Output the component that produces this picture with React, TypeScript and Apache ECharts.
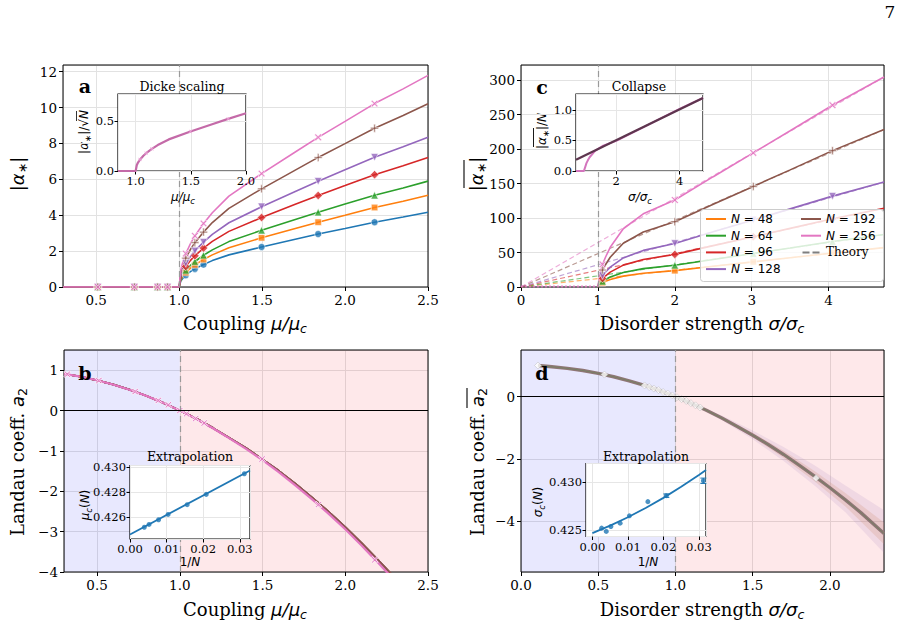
import { useEffect, useRef } from 'react';
import * as echarts from 'echarts';

const SERIF = "'DejaVu Serif', 'Liberation Serif', serif";
const SANS = "'DejaVu Sans', 'Noto Sans', sans-serif";

const COLORS = ['#1f77b4', '#ff7f0e', '#2ca02c', '#d62728', '#9467bd', '#8c564b', '#e377c2'];
const PLUS = 'path://M4,0 H6 V4 H10 V6 H6 V10 H4 V6 H0 V4 H4 Z';
const TRI_DOWN = 'path://M0,0 L10,0 L5,9 Z';
const DASH_ICON = 'path://M0,0 H7 V2 H0 Z M10,0 H17 V2 H10 Z';
const MARKERS = [
  { symbol: 'circle', size: 7, rotate: 0 },
  { symbol: 'rect', size: 6.5, rotate: 0 },
  { symbol: 'triangle', size: 7.5, rotate: 0 },
  { symbol: 'diamond', size: 8.5, rotate: 0 },
  { symbol: TRI_DOWN, size: 7.5, rotate: 0 },
  { symbol: PLUS, size: 8, rotate: 0 },
  { symbol: PLUS, size: 8.5, rotate: 45 },
];

// ---- panel a: order parameter vs coupling ----
const sizesA = [32, 48, 64, 96, 128, 192, 256];
const muA = [0.3, 0.51, 0.73, 0.87, 0.93, 1.0, 1.01, 1.02, 1.04, 1.07, 1.095, 1.147, 1.2, 1.3, 1.497, 1.7, 1.838, 2.0, 2.178, 2.35, 2.5];
const alphaA32 = [0, 0, 0, 0, 0, 0, 0.33, 0.46, 0.66, 0.87, 1.01, 1.25, 1.47, 1.79, 2.23, 2.66, 2.95, 3.26, 3.61, 3.9, 4.17];
const alphaA48 = [0, 0, 0, 0, 0, 0, 0.4, 0.57, 0.8, 1.06, 1.23, 1.53, 1.79, 2.19, 2.74, 3.26, 3.61, 4.0, 4.43, 4.78, 5.11];
const alphaA64 = [0, 0, 0, 0, 0, 0, 0.46, 0.66, 0.93, 1.22, 1.42, 1.77, 2.07, 2.53, 3.16, 3.76, 4.17, 4.62, 5.11, 5.52, 5.9];
const alphaA96 = [0, 0, 0, 0, 0, 0, 0.57, 0.8, 1.14, 1.5, 1.74, 2.17, 2.54, 3.1, 3.87, 4.61, 5.1, 5.65, 6.26, 6.76, 7.22];
const alphaA128 = [0, 0, 0, 0, 0, 0, 0.66, 0.93, 1.31, 1.73, 2.01, 2.5, 2.93, 3.58, 4.47, 5.32, 5.89, 6.53, 7.23, 7.81, 8.34];
const alphaA192 = [0, 0, 0, 0, 0, 0, 0.8, 1.14, 1.61, 2.12, 2.47, 3.06, 3.59, 4.38, 5.47, 6.51, 7.22, 7.99, 8.85, 9.56, 10.21];
const alphaA256 = [0, 0, 0, 0, 0, 0, 0.93, 1.31, 1.86, 2.45, 2.85, 3.54, 4.14, 5.06, 6.32, 7.52, 8.34, 9.23, 10.22, 11.04, 11.79];
const markIdxA = [1, 2, 3, 4, 8, 10, 11, 14, 16, 18];

// inset a: Dicke scaling |α*|/√N
const muDicke = [0.84, 1.0, 1.01, 1.02, 1.04, 1.07, 1.095, 1.147, 1.2, 1.3, 1.497, 1.7, 1.838, 2.0];
const dicke = [0, 0, 0.058, 0.082, 0.116, 0.153, 0.178, 0.221, 0.259, 0.316, 0.395, 0.47, 0.521, 0.577];
const dickeMarkIdx = [4, 6, 7, 10, 12];

// ---- panel c: disorder-averaged order parameter ----
const sizesC = [48, 64, 96, 128, 192, 256];
const sigmaC = [1.0, 1.03, 1.06, 1.1, 1.16, 1.33, 1.59, 2.0, 2.5, 3.02, 3.5, 4.05, 4.72];
const alphaC48 = [0, 3.8, 6.1, 8.2, 10.8, 15.8, 19.9, 23.7, 30.0, 36.5, 42.5, 49.4, 57.1];
const alphaC64 = [0, 5.1, 8.2, 10.9, 14.4, 21.1, 26.6, 31.6, 40.0, 48.6, 56.6, 65.9, 76.2];
const alphaC96 = [0, 7.7, 12.3, 16.3, 21.6, 31.7, 39.8, 47.3, 60.0, 73.0, 85.0, 98.9, 114.2];
const alphaC128 = [0, 10.2, 16.4, 21.8, 28.8, 42.2, 53.1, 63.1, 80.0, 97.3, 113.3, 131.8, 152.3];
const alphaC192 = [0, 15.4, 24.6, 32.6, 43.2, 63.4, 79.7, 94.7, 120.0, 145.9, 169.9, 197.8, 228.5];
const alphaC256 = [0, 20.5, 32.8, 43.5, 57.6, 84.5, 106.2, 126.2, 160.0, 194.6, 226.6, 263.7, 304.6];
const markIdxC = [2, 7, 9, 11];
const sigmaTheoryC = [0, 4.72];
const theoryStartC = [0, 0, 0, 0, 0, 0];
const theoryEndC = [57.1, 76.1, 114.2, 152.2, 228.3, 304.4];
const sigmaZeroC = [0, 0.98];
const alphaZeroC = [0.6, 0.6];

// inset c: collapse |α*|/N
const sigmaCollapse = [0.73, 0.98, 1.0, 1.03, 1.06, 1.1, 1.16, 1.33, 1.59, 2.0, 2.5, 3.02, 3.5, 4.05, 4.74];
const collapse = [0, 0, 0, 0.08, 0.128, 0.17, 0.225, 0.33, 0.415, 0.493, 0.625, 0.76, 0.885, 1.03, 1.195];
const sigmaTheoryInset = [0.73, 4.74];
const theoryInset = [0.184, 1.195];

// ---- panel b: Landau coefficient vs coupling ----
const muB = [0.3, 0.4, 0.5, 0.6, 0.7, 0.8, 0.9, 1.0, 1.1, 1.2, 1.3, 1.4, 1.5, 1.6, 1.7, 1.8, 1.9, 2.0, 2.1, 2.2, 2.3];
const a2Pink = [0.91, 0.84, 0.75, 0.64, 0.51, 0.36, 0.19, 0.0, -0.21, -0.44, -0.69, -0.95, -1.23, -1.53, -1.86, -2.2, -2.56, -2.94, -3.35, -3.78, -4.22];
const a2Finite = [0.91, 0.84, 0.75, 0.64, 0.51, 0.36, 0.19, 0.0, -0.2, -0.43, -0.68, -0.93, -1.21, -1.5, -1.82, -2.16, -2.51, -2.89, -3.29, -3.71, -4.15];
const muMarkB = [0.32, 0.51, 0.73, 0.87, 0.93, 1.0, 1.04, 1.095, 1.147, 1.497, 1.838, 2.178];
const a2MarkB = [0.9, 0.74, 0.47, 0.25, 0.14, 0.0, -0.08, -0.2, -0.31, -1.2, -2.33, -3.7];

// inset b: extrapolation of μc(N)
const invNB = [0.00391, 0.00521, 0.00781, 0.01042, 0.01563, 0.02083, 0.03125];
const muCB = [0.42523, 0.42545, 0.42582, 0.42624, 0.42701, 0.42782, 0.42945];
const fitXB = [0, 0.0328];
const fitYB = [0.42466, 0.4297];
const muCInf = 0.42466;

// ---- panel d: disorder-averaged Landau coefficient ----
const sigD = [0.11, 0.2, 0.3, 0.4, 0.5, 0.6, 0.7, 0.8, 0.9, 1.0, 1.1, 1.2, 1.3, 1.4, 1.5, 1.6, 1.7, 1.8, 1.9, 2.0, 2.1, 2.2, 2.35];
const a2D = [1.0, 0.96, 0.91, 0.84, 0.75, 0.64, 0.51, 0.36, 0.19, 0.0, -0.21, -0.44, -0.69, -0.96, -1.24, -1.54, -1.86, -2.2, -2.56, -2.93, -3.32, -3.73, -4.4];
const sigBand = [1.1, 1.3, 1.5, 1.7, 1.9, 2.1, 2.35];
const outerLow = [-0.23, -0.76, -1.37, -2.07, -2.86, -3.72, -5.03];
const outerHigh = [-0.19, -0.61, -1.09, -1.62, -2.21, -2.86, -3.65];
const innerLow = [-0.22, -0.73, -1.31, -1.97, -2.72, -3.53, -4.75];
const innerHigh = [-0.2, -0.65, -1.16, -1.74, -2.39, -3.1, -4.05];
const sigMarkD = [0.11, 0.54, 0.8, 0.83, 0.86, 0.89, 0.92, 0.95, 0.98, 1.01, 1.04, 1.07, 1.1, 1.13, 1.16, 1.91];
const a2MarkD = [1.0, 0.71, 0.36, 0.31, 0.26, 0.21, 0.15, 0.1, 0.04, -0.02, -0.08, -0.14, -0.21, -0.28, -0.35, -2.62];

// inset d: extrapolation of σc(N)
const invND = [0.0026, 0.00391, 0.00521, 0.00781, 0.01042, 0.01563, 0.02083, 0.03125];
const sigCD = [0.42517, 0.42483, 0.42534, 0.42569, 0.42645, 0.42793, 0.42855, 0.4301];
const errD = [0, 0, 0, 0, 0, 0, 0.00018, 0.00028];
const fitXD = [0, 0.005, 0.01, 0.015, 0.02, 0.025, 0.03, 0.032];
const fitYD = [0.42465, 0.42543, 0.4263, 0.42727, 0.42832, 0.42947, 0.43071, 0.43123];
const sigCInf = 0.42459;

const zip = (xs: number[], ys: number[]) => xs.map((x, i) => [x, ys[i]]);

const fmt = (v: number, d: number) => {
  const val = Math.abs(v) < 1e-12 ? 0 : v;
  return val.toFixed(d).replace('-', '\u2212');
};

type AxisSpec = {
  grid: number; min: number; max: number; interval?: number; nice?: number;
  digits: number; hideMin?: boolean; hideMax?: boolean; inset?: boolean;
};

function makeAxis(s: AxisSpec) {
  return {
    type: 'value',
    gridIndex: s.grid,
    min: s.min,
    max: s.max,
    ...(s.interval != null ? { interval: s.interval } : {}),
    ...(s.nice != null ? { minInterval: s.nice, maxInterval: s.nice } : {}),
    z: s.inset ? 11 : 0,
    axisLine: { show: false, onZero: false },
    axisTick: { show: true, length: s.inset ? 3.5 : 4, lineStyle: { color: '#000', width: 1 } },
    axisLabel: {
      color: '#000', fontFamily: SERIF, fontSize: s.inset ? 11.5 : 13.5, margin: s.inset ? 4 : 6,
      showMinLabel: !s.hideMin, showMaxLabel: !s.hideMax,
      formatter: (v: number) => fmt(v, s.digits),
    },
    splitLine: { show: true, lineStyle: { color: s.inset ? '#e6e6e6' : '#e2e2e2', width: 1 } },
  };
}

const mainGrid = (left: number, top: number, width: number, height: number) => ({
  left, top, width, height, show: true, borderColor: '#000', borderWidth: 1, backgroundColor: 'transparent', z: 2,
});
const insetGrid = (left: number, top: number, width: number, height: number) => ({
  left, top, width, height, show: true, borderColor: '#000', borderWidth: 1.2, backgroundColor: '#ffffff', z: 10,
});

const line = (xi: number, data: number[][], color: string, width: number, extra: any = {}) => ({
  type: 'line', xAxisIndex: xi, yAxisIndex: xi, data, symbol: 'none', showSymbol: false,
  lineStyle: { color, width }, itemStyle: { color }, silent: true, animation: false, ...extra,
});

const dashedV = { lineStyle: { color: '#9a9a9a', type: [6, 4], width: 1.2 } };

function buildOption() {
  const series: any[] = [];

  // panel a
  series.push(line(0, [[1, 0]], 'transparent', 0, {
    z: 1,
    markLine: { silent: true, symbol: ['none', 'none'], label: { show: false }, data: [{ xAxis: 1, ...dashedV }] },
  }));
  const tableA = [alphaA32, alphaA48, alphaA64, alphaA96, alphaA128, alphaA192, alphaA256];
  tableA.forEach((vals, i) => {
    const m = MARKERS[i];
    series.push(line(0, zip(muA, vals), COLORS[i], 1.6, { z: 2 }));
    series.push({
      type: 'scatter', xAxisIndex: 0, yAxisIndex: 0, z: 2, silent: true,
      data: markIdxA.map((k) => [muA[k], vals[k]]),
      symbol: m.symbol, symbolSize: m.size, symbolRotate: m.rotate,
      itemStyle: { color: COLORS[i], borderColor: '#ffffff', borderWidth: 0.7 },
    });
  });

  // inset a
  series.push(line(4, zip(muDicke, dicke), '#c46aa8', 2.2, {
    z: 12,
    markLine: { silent: true, symbol: ['none', 'none'], label: { show: false }, data: [{ xAxis: 1, ...dashedV }] },
  }));
  series.push({
    type: 'scatter', xAxisIndex: 4, yAxisIndex: 4, z: 12, silent: true,
    data: dickeMarkIdx.map((k) => [muDicke[k], dicke[k]]),
    symbol: PLUS, symbolRotate: 45, symbolSize: 4.5,
    itemStyle: { color: '#f0a8dc' },
  });

  // panel c
  series.push(line(1, [[1, 0]], 'transparent', 0, {
    z: 1,
    markLine: { silent: true, symbol: ['none', 'none'], label: { show: false }, data: [{ xAxis: 1, ...dashedV }] },
  }));
  sizesC.forEach((_, i) => {
    series.push(line(1, [[sigmaTheoryC[0], theoryStartC[i]], [sigmaTheoryC[1], theoryEndC[i]]], COLORS[i + 1], 1.2, {
      z: 2, lineStyle: { color: COLORS[i + 1], width: 1.2, type: [5, 3], opacity: 0.6 },
    }));
  });
  series.push(line(1, zip(sigmaZeroC, alphaZeroC), COLORS[6], 2, {
    z: 2, lineStyle: { color: COLORS[6], width: 2, type: [2, 2], opacity: 0.8 },
  }));
  const tableC = [alphaC48, alphaC64, alphaC96, alphaC128, alphaC192, alphaC256];
  tableC.forEach((vals, i) => {
    const m = MARKERS[i + 1];
    series.push(line(1, zip(sigmaC, vals), COLORS[i + 1], 1.6, { z: 2, name: `N = ${sizesC[i]}` }));
    series.push({
      type: 'scatter', xAxisIndex: 1, yAxisIndex: 1, z: 2, silent: true,
      data: markIdxC.map((k) => [sigmaC[k], vals[k]]),
      symbol: m.symbol, symbolSize: m.size, symbolRotate: m.rotate,
      itemStyle: { color: COLORS[i + 1], borderColor: '#ffffff', borderWidth: 0.7 },
    });
  });
  series.push(line(1, [], '#7f7f7f', 1.4, {
    name: 'Theory', lineStyle: { color: '#7f7f7f', width: 1.4, type: [5, 3] },
  }));

  // inset c
  series.push(line(5, zip(sigmaCollapse, collapse), '#d375bd', 2, { z: 12 }));
  series.push(line(5, zip(sigmaTheoryInset, theoryInset), '#5e364f', 2.3, { z: 12 }));

  // panel b
  series.push(line(2, [[0.3, 0]], 'transparent', 0, {
    z: 1,
    markArea: {
      silent: true,
      data: [
        [{ xAxis: 0.3, itemStyle: { color: 'rgba(0,0,240,0.09)' } }, { xAxis: 1 }],
        [{ xAxis: 1, itemStyle: { color: 'rgba(245,0,20,0.09)' } }, { xAxis: 2.5 }],
      ],
    },
    markLine: {
      silent: true, symbol: ['none', 'none'], label: { show: false },
      data: [
        { xAxis: 1, ...dashedV },
        { yAxis: 0, lineStyle: { color: '#000', type: 'solid', width: 1.2 } },
      ],
    },
  }));
  for (let i = 0; i < 6; i++) series.push(line(2, zip(muB, a2Finite), COLORS[i], 1.8, { z: 2 }));
  series.push(line(2, zip(muB, a2Pink), COLORS[6], 2.2, { z: 2 }));
  series.push({
    type: 'scatter', xAxisIndex: 2, yAxisIndex: 2, z: 2, silent: true,
    data: zip(muMarkB, a2MarkB), symbol: PLUS, symbolRotate: 45, symbolSize: 8,
    itemStyle: { color: COLORS[6], borderColor: '#ffffff', borderWidth: 0.9 },
  });

  // inset b
  series.push(line(6, zip(fitXB, fitYB), COLORS[0], 1.8, {
    z: 12,
    markLine: {
      silent: true, symbol: ['none', 'none'], label: { show: false },
      data: [{ yAxis: muCInf, lineStyle: { color: COLORS[3], type: [6, 3], width: 2 } }],
    },
  }));
  series.push({
    type: 'scatter', xAxisIndex: 6, yAxisIndex: 6, z: 12, silent: true,
    data: zip(invNB, muCB), symbol: 'circle', symbolSize: 5, itemStyle: { color: COLORS[0] },
  });

  // panel d
  series.push(line(3, [[0, 0]], 'transparent', 0, {
    z: 1,
    markArea: {
      silent: true,
      data: [
        [{ xAxis: 0, itemStyle: { color: 'rgba(0,0,240,0.09)' } }, { xAxis: 1 }],
        [{ xAxis: 1, itemStyle: { color: 'rgba(245,0,20,0.09)' } }, { xAxis: 2.35 }],
      ],
    },
    markLine: {
      silent: true, symbol: ['none', 'none'], label: { show: false },
      data: [
        { xAxis: 1, ...dashedV },
        { yAxis: 0, lineStyle: { color: '#000', type: 'solid', width: 1.2 } },
      ],
    },
  }));
  const band = (low: number[], high: number[], fill: string) => ({
    type: 'custom', xAxisIndex: 3, yAxisIndex: 3, z: 2, silent: true,
    data: sigBand.map((s, i) => [s, low[i], high[i]]),
    renderItem: (params: any, api: any) => {
      if (params.dataIndex !== 0) return null;
      const upper = sigBand.map((s, i) => api.coord([s, high[i]]));
      const lower = sigBand.map((s, i) => api.coord([s, low[i]])).reverse();
      return { type: 'polygon', shape: { points: upper.concat(lower) }, style: { fill } };
    },
  });
  series.push(band(outerLow, outerHigh, 'rgba(160,130,190,0.15)'));
  series.push(band(innerLow, innerHigh, 'rgba(205,140,110,0.22)'));
  series.push(line(3, zip(sigD, a2D), '#8f7676', 3.4, { z: 2 }));
  series.push(line(3, zip(sigD, a2D), COLORS[2], 0.7, { z: 2, lineStyle: { color: COLORS[2], width: 0.7, opacity: 0.35 } }));
  series.push({
    type: 'scatter', xAxisIndex: 3, yAxisIndex: 3, z: 2, silent: true,
    data: zip(sigMarkD, a2MarkD), symbol: 'diamond', symbolSize: 7,
    itemStyle: { color: '#ffffff', borderColor: 'rgba(170,170,170,0.8)', borderWidth: 0.6 },
  });

  // inset d
  series.push(line(7, zip(fitXD, fitYD), COLORS[0], 1.8, {
    z: 12,
    markLine: {
      silent: true, symbol: ['none', 'none'], label: { show: false },
      data: [{ yAxis: sigCInf, lineStyle: { color: COLORS[3], type: [6, 3], width: 2 } }],
    },
  }));
  series.push({
    type: 'scatter', xAxisIndex: 7, yAxisIndex: 7, z: 12, silent: true,
    data: zip(invND, sigCD), symbol: 'circle', symbolSize: 5, itemStyle: { color: COLORS[0] },
  });
  series.push({
    type: 'custom', xAxisIndex: 7, yAxisIndex: 7, z: 12, silent: true,
    data: invND.map((x, i) => [x, sigCD[i], errD[i]]),
    renderItem: (_p: any, api: any) => {
      const x = api.value(0), y = api.value(1), e = api.value(2);
      if (!e) return null;
      const top = api.coord([x, y + e]);
      const bot = api.coord([x, y - e]);
      const st = { stroke: COLORS[0], lineWidth: 1 };
      return {
        type: 'group',
        children: [
          { type: 'line', shape: { x1: top[0], y1: top[1], x2: bot[0], y2: bot[1] }, style: st },
          { type: 'line', shape: { x1: top[0] - 3, y1: top[1], x2: top[0] + 3, y2: top[1] }, style: st },
          { type: 'line', shape: { x1: bot[0] - 3, y1: bot[1], x2: bot[0] + 3, y2: bot[1] }, style: st },
        ],
      };
    },
  });

  // text styles
  const rich18 = {
    t: { fontFamily: SERIF, fontSize: 18, lineHeight: 24, fill: '#000' },
    m: { fontFamily: SANS, fontStyle: 'italic', fontSize: 18, lineHeight: 24, fill: '#000' },
    r: { fontFamily: SANS, fontSize: 18, lineHeight: 24, fill: '#000' },
    s: { fontFamily: SANS, fontStyle: 'italic', fontSize: 12.5, lineHeight: 12, verticalAlign: 'bottom', fill: '#000' },
    u: { fontFamily: SANS, fontSize: 12.5, lineHeight: 12, verticalAlign: 'bottom', fill: '#000' },
  };
  const rich12 = {
    t: { fontFamily: SERIF, fontSize: 12, lineHeight: 16, fill: '#000' },
    m: { fontFamily: SANS, fontStyle: 'italic', fontSize: 12, lineHeight: 16, fill: '#000' },
    r: { fontFamily: SANS, fontSize: 12, lineHeight: 16, fill: '#000' },
    s: { fontFamily: SANS, fontStyle: 'italic', fontSize: 8.5, lineHeight: 8, verticalAlign: 'bottom', fill: '#000' },
    u: { fontFamily: SANS, fontSize: 8.5, lineHeight: 8, verticalAlign: 'bottom', fill: '#000' },
  };
  const richTight = {
    m: { fontFamily: SANS, fontStyle: 'italic', fontSize: 12, lineHeight: 12, fill: '#000' },
    r: { fontFamily: SANS, fontSize: 12, lineHeight: 12, fill: '#000' },
  };
  const txt = (x: number, y: number, text: string, rich: any, rotation = 0, z = 30) => ({
    type: 'text', x, y, rotation, z, silent: true,
    style: { text, rich, align: 'center', verticalAlign: 'middle', fill: '#000' },
  });
  const plain = (x: number, y: number, text: string, size: number, weight = 'normal') => ({
    type: 'text', x, y, z: 30, silent: true,
    style: { text, fontFamily: SERIF, fontSize: size, fontWeight: weight, fill: '#000', align: 'center', verticalAlign: 'middle' },
  });
  const overline = (x1: number, x2: number, y: number, w = 1.1) => ({
    type: 'line', shape: { x1, y1: y, x2, y2: y }, style: { stroke: '#000', lineWidth: w },
  });

  const graphic: any[] = [
    plain(890, 12, '7', 17),
    plain(85, 86, 'a', 19, 'bold'),
    plain(542, 87, 'c', 19, 'bold'),
    plain(85, 373, 'b', 19, 'bold'),
    plain(542, 373, 'd', 19, 'bold'),
    // axis titles
    txt(245, 323, '{t|Coupling }{m|μ/μ}{s|c}', rich18),
    txt(702, 323, '{t|Disorder strength }{m|σ/σ}{s|c}', rich18),
    txt(245, 609, '{t|Coupling }{m|μ/μ}{s|c}', rich18),
    txt(702, 609, '{t|Disorder strength }{m|σ/σ}{s|c}', rich18),
    txt(17, 174, '{r||}{m|α}{u|∗}{r||}', rich18, Math.PI / 2),
    {
      type: 'group', x: 476, y: 174, rotation: Math.PI / 2, z: 30,
      children: [
        { type: 'text', x: 0, y: 0, style: { text: '{r||}{m|α}{u|∗}{r||}', rich: rich18, align: 'center', verticalAlign: 'middle' } },
        overline(-14, 14, -12),
      ],
    },
    txt(17, 462, '{t|Landau coeff. }{m|a}{u|2}', rich18, Math.PI / 2),
    {
      type: 'group', x: 477, y: 462, rotation: Math.PI / 2, z: 30,
      children: [
        { type: 'text', x: 0, y: 0, style: { text: '{t|Landau coeff. }{m|a}{u|2}', rich: rich18, align: 'center', verticalAlign: 'middle' } },
        overline(54, 74, -10),
      ],
    },
    // inset titles
    plain(182, 86, 'Dicke scaling', 12.5),
    plain(639, 86, 'Collapse', 12.5),
    plain(190, 456, 'Extrapolation', 12.5),
    plain(646, 456, 'Extrapolation', 12.5),
    // inset axis names
    txt(183, 197, '{m|μ/μ}{s|c}', rich12),
    {
      type: 'group', x: 84, y: 132, rotation: Math.PI / 2, z: 30,
      children: [
        { type: 'text', x: 0, y: 0, style: { text: '{r||}{m|α}{u|∗}{r||/√}{m|N}', rich: rich12, align: 'center', verticalAlign: 'middle' } },
        overline(11, 21, -7.5, 0.8),
      ],
    },
    txt(640, 197, '{m|σ/σ}{s|c}', rich12),
    {
      type: 'group', x: 542, y: 131, rotation: Math.PI / 2, z: 30,
      children: [
        { type: 'text', x: 0, y: 0, style: { text: '{r||}{m|α}{u|∗}{r||/}{m|N}', rich: rich12, align: 'center', verticalAlign: 'middle' } },
        overline(-16, 3, -8.5, 0.9),
      ],
    },
    txt(190, 562, '{r|1/}{m|N}', richTight),
    txt(85, 505, '{m|μ}{s|c}{r|(}{m|N}{r|)}', rich12, Math.PI / 2),
    txt(648, 562, '{r|1/}{m|N}', richTight),
    txt(538, 502, '{m|σ}{s|c}{r|(}{m|N}{r|)}', rich12, Math.PI / 2),
    // legend frame
    {
      type: 'rect', z: 19, silent: true,
      shape: { x: 700.5, y: 209.5, width: 183, height: 72, r: 3 },
      style: { fill: 'rgba(255,255,255,0.82)', stroke: '#cccccc', lineWidth: 1 },
    },
  ];

  const legendText = {
    color: '#000', fontFamily: SANS, fontSize: 12, lineHeight: 12,
    rich: {
      m: { fontFamily: SANS, fontStyle: 'italic', fontSize: 12, lineHeight: 12, color: '#000' },
      t: { fontFamily: SERIF, fontSize: 12, lineHeight: 12, color: '#000' },
    },
  };
  const legendFmt = (name: string) => (name === 'Theory' ? '{t|Theory}' : `{m|N} = ${name.slice(4)}`);
  const legendBase = {
    orient: 'vertical', top: 213, itemWidth: 20, itemHeight: 2, itemGap: 4.7, z: 21, icon: 'rect',
    selectedMode: false, textStyle: legendText, formatter: legendFmt, padding: 0,
  };

  return {
    animation: false,
    backgroundColor: '#ffffff',
    grid: [
      mainGrid(63, 65, 365, 222),
      mainGrid(521, 65, 363, 222),
      mainGrid(64, 350, 364, 222),
      mainGrid(521, 350, 363, 222),
      insetGrid(118, 94, 128, 77),
      insetGrid(576, 94, 127, 77),
      insetGrid(130, 465.5, 120, 73.5),
      insetGrid(586, 463.5, 120, 73),
    ],
    xAxis: [
      makeAxis({ grid: 0, min: 0.3, max: 2.5, nice: 0.5, digits: 1, hideMin: true }),
      makeAxis({ grid: 1, min: 0, max: 4.72, interval: 1, digits: 0, hideMax: true }),
      makeAxis({ grid: 2, min: 0.3, max: 2.5, nice: 0.5, digits: 1, hideMin: true }),
      makeAxis({ grid: 3, min: 0, max: 2.35, interval: 0.5, digits: 1, hideMax: true }),
      makeAxis({ grid: 4, min: 0.84, max: 2.0, nice: 0.5, digits: 1, hideMin: true, inset: true }),
      makeAxis({ grid: 5, min: 0.73, max: 4.74, nice: 2, digits: 0, hideMin: true, hideMax: true, inset: true }),
      makeAxis({ grid: 6, min: 0, max: 0.0328, interval: 0.01, digits: 2, hideMax: true, inset: true }),
      makeAxis({ grid: 7, min: -0.0018, max: 0.032, nice: 0.01, digits: 2, hideMin: true, hideMax: true, inset: true }),
    ],
    yAxis: [
      makeAxis({ grid: 0, min: 0, max: 12.37, interval: 2, digits: 0, hideMax: true }),
      makeAxis({ grid: 1, min: 0, max: 322, interval: 50, digits: 0, hideMax: true }),
      makeAxis({ grid: 2, min: -4, max: 1.5, interval: 1, digits: 0, hideMax: true }),
      makeAxis({ grid: 3, min: -5.64, max: 1.5, nice: 2, digits: 0, hideMin: true, hideMax: true }),
      makeAxis({ grid: 4, min: 0, max: 0.77, interval: 0.5, digits: 1, hideMax: true, inset: true }),
      makeAxis({ grid: 5, min: 0, max: 1.26, interval: 0.5, digits: 1, hideMax: true, inset: true }),
      makeAxis({ grid: 6, min: 0.4243, max: 0.4301, nice: 0.002, digits: 3, hideMin: true, hideMax: true, inset: true }),
      makeAxis({ grid: 7, min: 0.4243, max: 0.4319, nice: 0.005, digits: 3, hideMin: true, hideMax: true, inset: true }),
    ],
    legend: [
      { ...legendBase, left: 706, data: ['N = 48', 'N = 64', 'N = 96', 'N = 128'] },
      { ...legendBase, left: 801, data: ['N = 192', 'N = 256', { name: 'Theory', icon: DASH_ICON }] },
    ],
    graphic,
    series,
  };
}

export default function App() {
  const ref = useRef<HTMLDivElement>(null);
  useEffect(() => {
    const chart = echarts.init(ref.current!, null, { renderer: 'svg' });
    chart.setOption(buildOption() as any);
    return () => chart.dispose();
  }, []);
  return <div ref={ref} style={{ position: 'absolute', left: 0, top: 0, width: 903, height: 629 }} />;
}
